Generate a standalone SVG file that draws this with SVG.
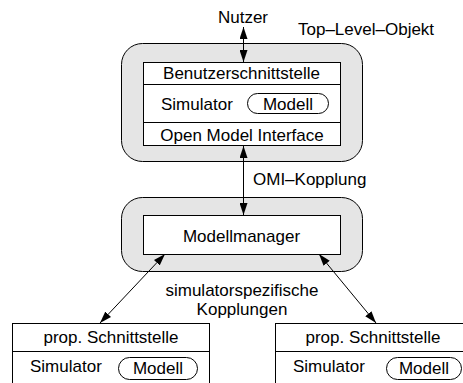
<svg xmlns="http://www.w3.org/2000/svg" width="463" height="383" viewBox="0 0 463 383">
<style>
text{font-family:"Liberation Sans",Arial,sans-serif;font-size:17px;fill:#000}
.c{text-anchor:middle}
.outer{fill:#e5e5e5;stroke:#000;stroke-width:1}
.box{fill:#fff;stroke:#000;stroke-width:1}
.pill{fill:#fff;stroke:#000;stroke-width:1}
.ln{stroke:#000;stroke-width:1;fill:none}
.con{stroke:#000;stroke-width:1;fill:none;marker-start:url(#ah);marker-end:url(#ah)}
</style>
<defs>
<marker id="ah" viewBox="0 0 12 8" refX="12" refY="4" markerWidth="12" markerHeight="8" markerUnits="userSpaceOnUse" orient="auto-start-reverse">
<path d="M0,0 L12,4 L0,8 Z" fill="#000"/>
</marker>
</defs>
<text x="243" y="23" class="c">Nutzer</text>
<text x="298" y="35">Top–Level–Objekt</text>
<g id="toplevel">
<rect class="outer" x="121.5" y="43.5" width="241" height="118" rx="21"/>
<rect class="box" x="143.5" y="62.5" width="197" height="83"/>
<line class="ln" x1="143.5" y1="84.5" x2="340.5" y2="84.5"/>
<line class="ln" x1="143.5" y1="122.5" x2="340.5" y2="122.5"/>
<text x="241.5" y="79" class="c">Benutzerschnittstelle</text>
<text x="161" y="110">Simulator</text>
<rect class="pill" x="247.5" y="93.5" width="81" height="20" rx="10"/>
<text x="288" y="110" class="c">Modell</text>
<text x="242" y="141" class="c">Open Model Interface</text>
</g>
<text x="253" y="185">OMI–Kopplung</text>
<g id="modellmanager">
<rect class="outer" x="121.5" y="197.5" width="241" height="74" rx="21"/>
<rect class="box" x="143.5" y="215.5" width="197" height="39"/>
<text x="241.5" y="242" class="c">Modellmanager</text>
</g>
<text x="242" y="296" class="c">simulatorspezifische</text>
<text x="242" y="315" class="c">Kopplungen</text>
<g id="sim-left">
<rect class="box" x="12.5" y="323.5" width="197" height="70"/>
<line class="ln" x1="12.5" y1="351.5" x2="209.5" y2="351.5"/>
<text x="111" y="343" class="c">prop. Schnittstelle</text>
<text x="30" y="372">Simulator</text>
<rect class="pill" x="118.5" y="357.5" width="79" height="22" rx="11"/>
<text x="158" y="374" class="c">Modell</text>
</g>
<g id="sim-right">
<rect class="box" x="275.5" y="323.5" width="197" height="70"/>
<line class="ln" x1="275.5" y1="351.5" x2="472.5" y2="351.5"/>
<text x="373" y="343" class="c">prop. Schnittstelle</text>
<text x="293" y="372">Simulator</text>
<rect class="pill" x="386.5" y="357.5" width="75" height="22" rx="11"/>
<text x="424" y="374" class="c">Modell</text>
</g>
<g id="connectors">
<line class="con" x1="243.5" y1="27" x2="243.5" y2="62"/>
<line class="con" x1="243.5" y1="146" x2="243.5" y2="215"/>
<line class="con" x1="165" y1="254" x2="100" y2="323"/>
<line class="con" x1="319" y1="254" x2="376" y2="323"/>
</g>
</svg>
